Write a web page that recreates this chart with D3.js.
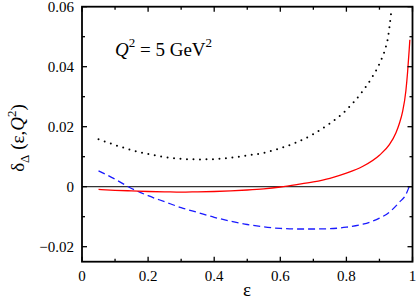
<!DOCTYPE html>
<html>
<head>
<meta charset="utf-8">
<script src="https://cdn.jsdelivr.net/npm/d3@7"></script>
<style>
  body { margin: 0; background: #fff; }
</style>
</head>
<body>
<div id="chart"></div>
<script>
// curve values
var epsDot = [0.05, 0.10, 0.15, 0.20, 0.25, 0.30, 0.35, 0.40, 0.45, 0.50, 0.55, 0.60, 0.65, 0.70, 0.75, 0.80, 0.85, 0.88, 0.90, 0.92, 0.925, 0.93, 0.935];
var valDot = [0.0158, 0.0139, 0.0122, 0.0109, 0.0099, 0.0093, 0.0091, 0.0092, 0.0097, 0.0104, 0.0113, 0.0128, 0.0148, 0.0175, 0.0211, 0.0256, 0.0320, 0.0369, 0.0410, 0.0469, 0.0492, 0.0530, 0.0576];

var epsRed = [0.05, 0.10, 0.15, 0.20, 0.25, 0.30, 0.35, 0.40, 0.45, 0.50, 0.55, 0.60, 0.65, 0.70, 0.75, 0.80, 0.85, 0.90, 0.93, 0.95, 0.96, 0.97, 0.98, 0.985, 0.99, 0.992];
var valRed = [-0.0009, -0.0012, -0.0014, -0.0016, -0.0017, -0.0018, -0.0017, -0.0016, -0.0014, -0.0011, -0.0007, -0.0001, 0.0007, 0.0016, 0.0028, 0.0045, 0.0068, 0.0105, 0.0140, 0.0180, 0.0210, 0.0250, 0.0320, 0.0380, 0.0456, 0.0490];

var epsBlue = [0.05, 0.10, 0.14, 0.20, 0.25, 0.30, 0.35, 0.40, 0.45, 0.50, 0.55, 0.60, 0.65, 0.70, 0.75, 0.80, 0.85, 0.90, 0.93, 0.96, 0.98, 0.99];
var valBlue = [0.0053, 0.0025, 0.0, -0.0030, -0.0050, -0.0070, -0.0086, -0.0102, -0.0115, -0.0126, -0.0134, -0.0139, -0.0141, -0.0141, -0.0140, -0.0135, -0.0125, -0.0105, -0.0085, -0.0052, -0.0026, 0.0];

var xTicks = [0, 0.2, 0.4, 0.6, 0.8, 1];
var xTickLabels = ["0", "0.2", "0.4", "0.6", "0.8", "1"];
var yTicks = [-0.02, 0, 0.02, 0.04, 0.06];
var yTickLabels = ["\u22120.02", "0", "0.02", "0.04", "0.06"];

var W = 417, H = 300;
var L = 82, R = 412.5, T = 6.7, B = 261.7;
var FONT = '"Liberation Serif"';

var svg = d3.select('#chart').append('svg')
  .attr('width', W).attr('height', H);

var x = d3.scaleLinear().domain([0, 1]).range([L, R]);
var y = d3.scaleLinear().domain([-0.025, 0.06]).range([B, T]);

svg.append('clipPath').attr('id', 'clip')
  .append('rect').attr('x', L).attr('y', T).attr('width', R - L).attr('height', B - T);

var plot = svg.append('g').attr('clip-path', 'url(#clip)');

// zero line
plot.append('line')
  .attr('x1', x(0)).attr('x2', x(1)).attr('y1', y(0)).attr('y2', y(0))
  .attr('stroke', '#333').attr('stroke-width', 1.2);

var line = d3.line().x(function(d){ return x(d[0]); }).y(function(d){ return y(d[1]); })
  .curve(d3.curveMonotoneX);

plot.append('path').datum(d3.zip(epsDot, valDot))
  .attr('d', line).attr('fill', 'none').attr('stroke', '#000')
  .attr('stroke-width', 2).attr('stroke-linecap', 'round').attr('stroke-dasharray', '0 6.5');

plot.append('path').datum(d3.zip(epsBlue, valBlue))
  .attr('d', line).attr('fill', 'none').attr('stroke', '#1a1aff')
  .attr('stroke-width', 1.3).attr('stroke-dasharray', '7 4');

plot.append('path').datum(d3.zip(epsRed, valRed))
  .attr('d', line).attr('fill', 'none').attr('stroke', '#ff0000')
  .attr('stroke-width', 1.3);

// frame
svg.append('rect').attr('x', L).attr('y', T).attr('width', R - L).attr('height', B - T)
  .attr('fill', 'none').attr('stroke', '#000').attr('stroke-width', 1.8);

// inward ticks on all four sides
var xMinor = d3.range(0, 1.0001, 0.1);
var yMinor = d3.range(-0.02, 0.0601, 0.01);
var tk = svg.append('g').attr('stroke', '#000').attr('stroke-width', 1.3);
xMinor.forEach(function(v, i){
  var len = (i % 2 === 0) ? 5 : 3;
  tk.append('line').attr('x1', x(v)).attr('x2', x(v)).attr('y1', B).attr('y2', B - len);
  tk.append('line').attr('x1', x(v)).attr('x2', x(v)).attr('y1', T).attr('y2', T + len);
});
yMinor.forEach(function(v, i){
  var len = (i % 2 === 0) ? 5 : 3;
  tk.append('line').attr('y1', y(v)).attr('y2', y(v)).attr('x1', L).attr('x2', L + len);
  tk.append('line').attr('y1', y(v)).attr('y2', y(v)).attr('x1', R).attr('x2', R - len);
});

// tick labels
svg.selectAll('.xl').data(xTicks).enter().append('text')
  .attr('x', function(d){ return x(d); }).attr('y', 281)
  .attr('text-anchor', 'middle')
  .style('font-family', FONT).style('font-size', '15px')
  .text(function(d, i){ return xTickLabels[i]; });

svg.selectAll('.yl').data(yTicks).enter().append('text')
  .attr('x', L - 8).attr('y', function(d){ return y(d) + 5; })
  .attr('text-anchor', 'end')
  .style('font-family', FONT).style('font-size', '15px')
  .text(function(d, i){ return yTickLabels[i]; });

// axis titles
svg.append('text').attr('x', 247).attr('y', 296)
  .attr('text-anchor', 'middle')
  .style('font-family', FONT).style('font-size', '19px').text('\u03b5');

var yt = svg.append('text')
  .attr('transform', 'translate(24,138) rotate(-90)')
  .attr('text-anchor', 'middle')
  .style('font-family', FONT).style('font-size', '19px');
yt.append('tspan').text('\u03b4');
yt.append('tspan').attr('dy', 5).style('font-size', '13px').text('\u0394');
yt.append('tspan').attr('dy', -5).text(' (\u03b5,');
yt.append('tspan').style('font-style', 'italic').text('Q');
yt.append('tspan').attr('dy', -8).style('font-size', '13px').text('2');
yt.append('tspan').attr('dy', 8).text(')');

// annotation
var ann = svg.append('text').attr('x', 115).attr('y', 56)
  .style('font-family', FONT).style('font-size', '19px');
ann.append('tspan').style('font-style', 'italic').text('Q');
ann.append('tspan').attr('dy', -9).style('font-size', '13px').text('2');
ann.append('tspan').attr('dy', 9).text(' = 5 GeV');
ann.append('tspan').attr('dy', -9).style('font-size', '13px').text('2');
</script>
</body>
</html>
